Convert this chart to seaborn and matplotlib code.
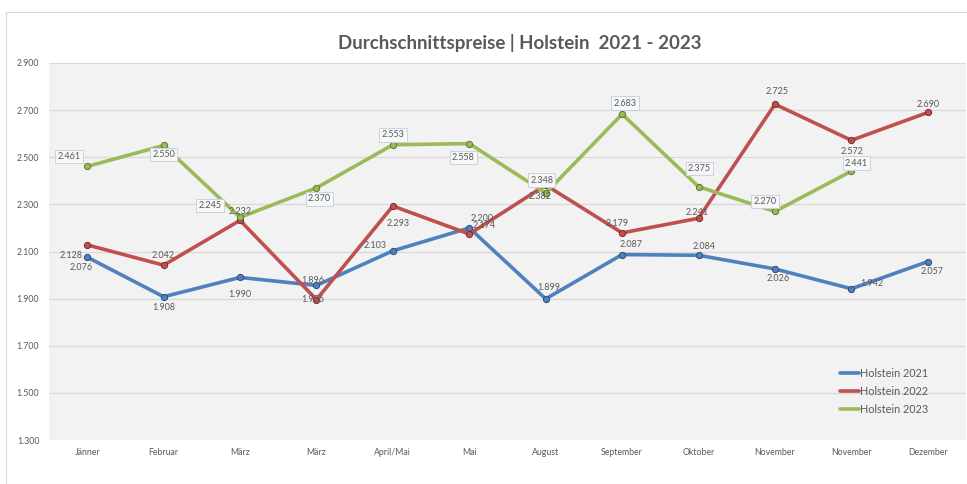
#! /usr/bin/env python3

"""Durchschnittspreise Holstein 2021 - 2023 als Liniendiagramm"""

import matplotlib
matplotlib.use("Agg")

import matplotlib.pyplot as plt
import numpy as np
import pandas as pd
import seaborn as sns
from matplotlib.lines import Line2D
from matplotlib.patches import Rectangle

# --- data ---------------------------------------------------------------
months = ["Jänner", "Februar", "März", "März", "April/Mai", "Mai",
          "August", "September", "Oktober", "November", "November",
          "Dezember"]
series_names = ["Holstein 2021", "Holstein 2022", "Holstein 2023"]

holstein_2021 = [2.076, 1.908, 1.990, 1.956, 2.103, 2.200,
                 1.899, 2.087, 2.084, 2.026, 1.942, 2.057]
holstein_2022 = [2.128, 2.042, 2.232, 1.896, 2.293, 2.174,
                 2.382, 2.179, 2.241, 2.725, 2.572, 2.690]
holstein_2023 = [2.461, 2.550, 2.245, 2.370, 2.553, 2.558,
                 2.348, 2.683, 2.375, 2.270, 2.441, np.nan]

y_ticks = [1.3, 1.5, 1.7, 1.9, 2.1, 2.3, 2.5, 2.7, 2.9]

# label offsets in pixels (dx, dy), y up
offsets_2021 = [(-6, -10), (0, -11), (0, -17), (-4, -14), (-18, 5), (13, 9),
                (3, 11), (9, 10), (6, 9), (3, -10), (20, 5), (4, -10)]
offsets_2022 = [(-16, -11), (0, 10), (0, 9), (-4, 19), (5, -17), (15, 9),
                (-6, -11), (-5, 9), (-1, 6), (2, 13), (1, -11), (0, 8)]
offsets_2023 = [(-18, 10), (0, -9), (-30, 12), (3, -11), (0, 10), (-6, -14),
                (-4, 13), (3, 11), (1, 18), (-10, 10), (5, 8), (0, 0)]

colors = ["#4F81BD", "#C0504D", "#9BBB59"]
edge_colors = ["#2c4d75", "#772c2a", "#5f7530"]
text_grey = "#595959"

values = [holstein_2021, holstein_2022, holstein_2023]
offsets = [offsets_2021, offsets_2022, offsets_2023]

rows = []
for name, vals in zip(series_names, values):
    for pos, v in enumerate(vals):
        rows.append({"pos": pos, "value": v, "series": name})
df = pd.DataFrame(rows).dropna()

# --- plot ---------------------------------------------------------------
sns.set_theme(style="white")
plt.rcParams["font.family"] = ["Lato", "DejaVu Sans"]

fig = plt.figure(figsize=(9.67, 4.84), dpi=100)
fig.patch.set_facecolor("white")
fig.patches.append(Rectangle((6 / 967, 0), 1.0, 1 - 12 / 484,
                             transform=fig.transFigure, fill=False,
                             edgecolor="#d9d9d9", linewidth=0.8))

ax = fig.add_axes([49 / 967, 1 - 440 / 484, 917 / 967, 377 / 484])
ax.set_facecolor("#f2f2f2")

sns.lineplot(data=df, x="pos", y="value", hue="series",
             palette=dict(zip(series_names, colors)), linewidth=2.6,
             marker="o", markersize=4.5, markeredgewidth=0.7,
             legend=False, ax=ax, zorder=3)

# darker marker edges as in the Excel original
for line, ec in zip(ax.get_lines(), edge_colors):
    line.set_markeredgecolor(ec)

# data labels
for si, (vals, offs) in enumerate(zip(values, offsets)):
    for pos, (v, off) in enumerate(zip(vals, offs)):
        if np.isnan(v):
            continue
        label = f"{v:.3f}"
        box = None
        if si == 2:
            box = dict(boxstyle="square,pad=0.25", facecolor="#f7f7f7",
                       edgecolor="#c5d3e6", linewidth=0.7)
        ax.annotate(label, (pos, v), xytext=off, textcoords="offset pixels",
                    ha="center", va="center", fontsize=6.5, color=text_grey,
                    bbox=box, zorder=5)

ax.set_xlim(-0.5, len(months) - 0.5)
ax.set_ylim(1.3, 2.9)
ax.set_yticks(y_ticks)
ax.set_yticklabels([f"{t:.3f}" for t in y_ticks], fontsize=6.3,
                   color=text_grey)
ax.set_xticks(range(len(months)))
ax.set_xticklabels(months, fontsize=6.3, color=text_grey)
ax.tick_params(axis="x", length=0, pad=6)
ax.tick_params(axis="y", length=0, pad=7)
ax.grid(axis="y", color="#d9d9d9", linewidth=0.9, zorder=0)
ax.set_axisbelow(True)
ax.set_xlabel("")
ax.set_ylabel("")
for spine in ax.spines.values():
    spine.set_visible(False)

fig.text(520 / 967, 1 - 43 / 484, "Durchschnittspreise | Holstein  2021 - 2023",
         ha="center", va="center", fontsize=13.5, fontweight="bold",
         color=text_grey)

handles = [Line2D([0], [0], color=c, linewidth=2.6) for c in colors]
ax.legend(handles, series_names, loc="lower right",
          bbox_to_anchor=(0.97, 0.04), frameon=False, fontsize=7.8,
          labelcolor=text_grey, handlelength=1.8, handletextpad=0.1,
          labelspacing=0.65)

plt.savefig("out.png", dpi=100)
plt.close()
